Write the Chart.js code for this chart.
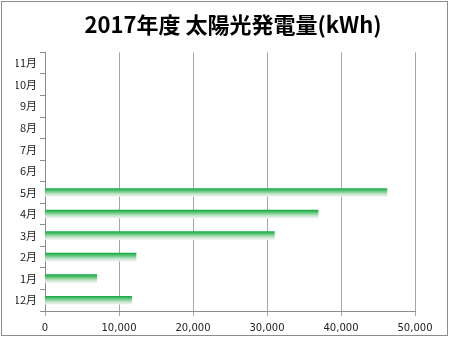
<!DOCTYPE html>
<html>
<head>
<meta charset="utf-8">
<script src="https://cdn.jsdelivr.net/npm/chart.js@4/dist/chart.umd.min.js"></script>
<style>
  html, body { margin: 0; padding: 0; background: #fff; }
  #wrap { position: relative; width: 450px; height: 338px; }
  #frame { position: absolute; left: 1px; top: 1px; width: 445px; height: 333px; border: 1px solid #8c8c8c; pointer-events: none; }
</style>
</head>
<body>
<div id="wrap">
  <canvas id="chart" width="450" height="338"></canvas>
  <div id="frame"></div>
</div>
<script>
// 月ラベル（下から順）
const months = ['12月', '1月', '2月', '3月', '4月', '5月', '6月', '7月', '8月', '9月', '10月', '11月'];
// 発電量 kWh（6月以降は未計測）
const generation = [11700, 7000, 12300, 31000, 36900, 46200, null, null, null, null, null, null];
const xTicks = [0, 10000, 20000, 30000, 40000, 50000];

const BAR_H = 8;

// バーごとの縦グラデーション
function barGradient(context) {
  const chart = context.chart;
  const yScale = chart.scales.y;
  if (!yScale || context.dataIndex === undefined) return '#1fae4e';
  const cy = yScale.getPixelForValue(context.dataIndex);
  if (!isFinite(cy)) return '#1fae4e';
  const g = chart.ctx.createLinearGradient(0, cy - BAR_H / 2, 0, cy + BAR_H / 2);
  g.addColorStop(0, '#17a945');
  g.addColorStop(0.3, '#5cc577');
  g.addColorStop(0.7, '#c4e6c9');
  g.addColorStop(1, '#eef2f4');
  return g;
}

new Chart(document.getElementById('chart'), {
  type: 'bar',
  data: {
    labels: months,
    datasets: [{
      data: generation,
      backgroundColor: barGradient,
      borderWidth: 0,
      barThickness: BAR_H
    }]
  },
  options: {
    indexAxis: 'y',
    responsive: false,
    animation: false,
    layout: { padding: { left: 16, right: 0, top: 3, bottom: -2 } },
    plugins: {
      legend: { display: false },
      tooltip: { enabled: false },
      title: {
        display: true,
        text: '2017年度 太陽光発電量(kWh)',
        color: '#000',
        font: { family: '"Noto Sans CJK JP", sans-serif', size: 22, weight: 'bold' },
        padding: { top: 8, bottom: 15 }
      }
    },
    scales: {
      x: {
        min: 0,
        max: 50000,
        afterBuildTicks: axis => { axis.ticks = xTicks.map(v => ({ value: v })); },
        afterFit: axis => { axis.paddingRight = 35; },
        border: { color: '#8c8c8c' },
        grid: { color: '#a6a6a6', tickLength: 5, lineWidth: 1 },
        ticks: {
          color: '#222',
          padding: 6,
          font: { family: '"DejaVu Sans", sans-serif', size: 10 },
          callback: v => v.toLocaleString('en-US')
        }
      },
      y: {
        reverse: true,
        afterFit: axis => { axis.width = 29; },
        border: { color: '#8c8c8c' },
        grid: { drawOnChartArea: false, color: '#8c8c8c', tickLength: 5, offset: true },
        ticks: {
          color: '#222',
          padding: 3,
          font: { family: '"Noto Sans CJK JP", sans-serif', size: 11 }
        }
      }
    }
  }
});
</script>
</body>
</html>
